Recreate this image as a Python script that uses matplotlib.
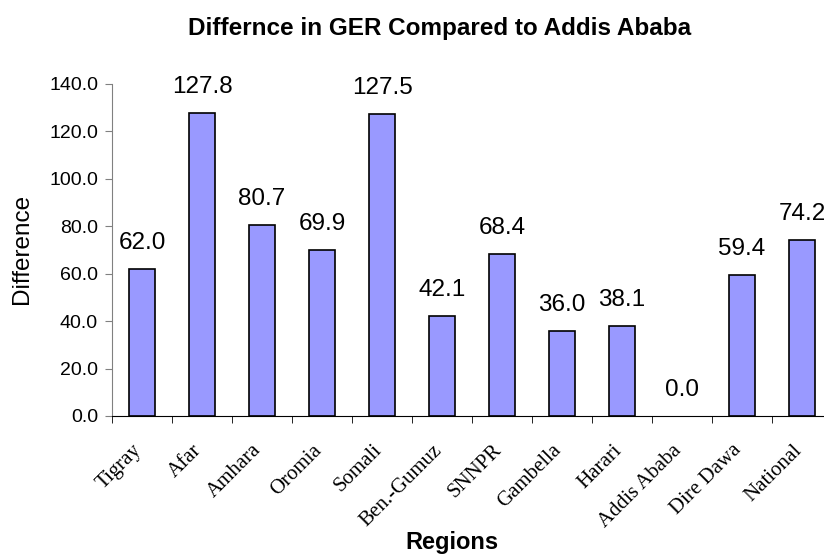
import numpy as np
import matplotlib
matplotlib.use('Agg')
import matplotlib.pyplot as plt
from matplotlib.ticker import MultipleLocator, FormatStrFormatter

# Data
regions = ['Tigray', 'Afar', 'Amhara', 'Oromia', 'Somali', 'Ben.-Gumuz', 'SNNPR',
           'Gambella', 'Harari', 'Addis Ababa', 'Dire Dawa', 'National']
difference = [62.0, 127.8, 80.7, 69.9, 127.5, 42.1, 68.4, 36.0, 38.1, 0.0, 59.4, 74.2]

plt.rcParams['font.family'] = ['Liberation Sans', 'DejaVu Sans']

fig = plt.figure(figsize=(8.24, 5.54), dpi=100)
W, H = 824, 554
# plot area in pixels: left 112, right 832 (runs past the edge), top 84, bottom 416
ax = fig.add_axes([112 / W, 1 - 416 / H, 720 / W, 332 / H])

x = np.arange(len(regions))
# no outline for the empty bar (Addis Ababa)
edge_w = [0 if v == 0 else 1.2 for v in difference]
ax.bar(x, difference, width=0.42, color='#9999FF', edgecolor='black', linewidth=edge_w, zorder=2)

for xi, v in zip(x, difference):
    ax.annotate('%.1f' % v, (xi, v), xytext=(0, 18.7), textcoords='offset points',
                ha='center', va='center', fontsize=17.5)

ax.set_xlim(-0.5, len(regions) - 0.5)
ax.set_ylim(0, 140)
ax.yaxis.set_major_locator(MultipleLocator(20))
ax.yaxis.set_major_formatter(FormatStrFormatter('%.1f'))

ax.spines['top'].set_visible(False)
ax.spines['right'].set_visible(False)
ax.spines['left'].set_color('#808080')
ax.spines['bottom'].set_color('black')
ax.spines['bottom'].set_zorder(3)

ax.tick_params(axis='y', labelsize=14, length=5, color='#808080', pad=5)
ax.set_xticks(x)
ax.set_xticks(np.arange(len(regions) + 1) - 0.5, minor=True)
ax.tick_params(axis='x', which='major', length=0, pad=25)
ax.tick_params(axis='x', which='minor', length=5, direction='out', color='black')
ax.set_xticklabels(regions, rotation=45, ha='right', va='baseline', rotation_mode='anchor',
                   family=['Liberation Serif', 'DejaVu Serif'], fontsize=15)

fig.text(22 / W, 1 - 249 / H, 'Difference', rotation=90, ha='center', va='center', fontsize=17.5)
fig.text(452 / W, 1 - 542 / H, 'Regions', ha='center', va='center', fontsize=17, fontweight='bold')
fig.text(440 / W, 1 - 29 / H, 'Differnce in GER Compared to Addis Ababa', ha='center',
         va='center', fontsize=17.5, fontweight='bold')

fig.savefig('out.png', dpi=100)
